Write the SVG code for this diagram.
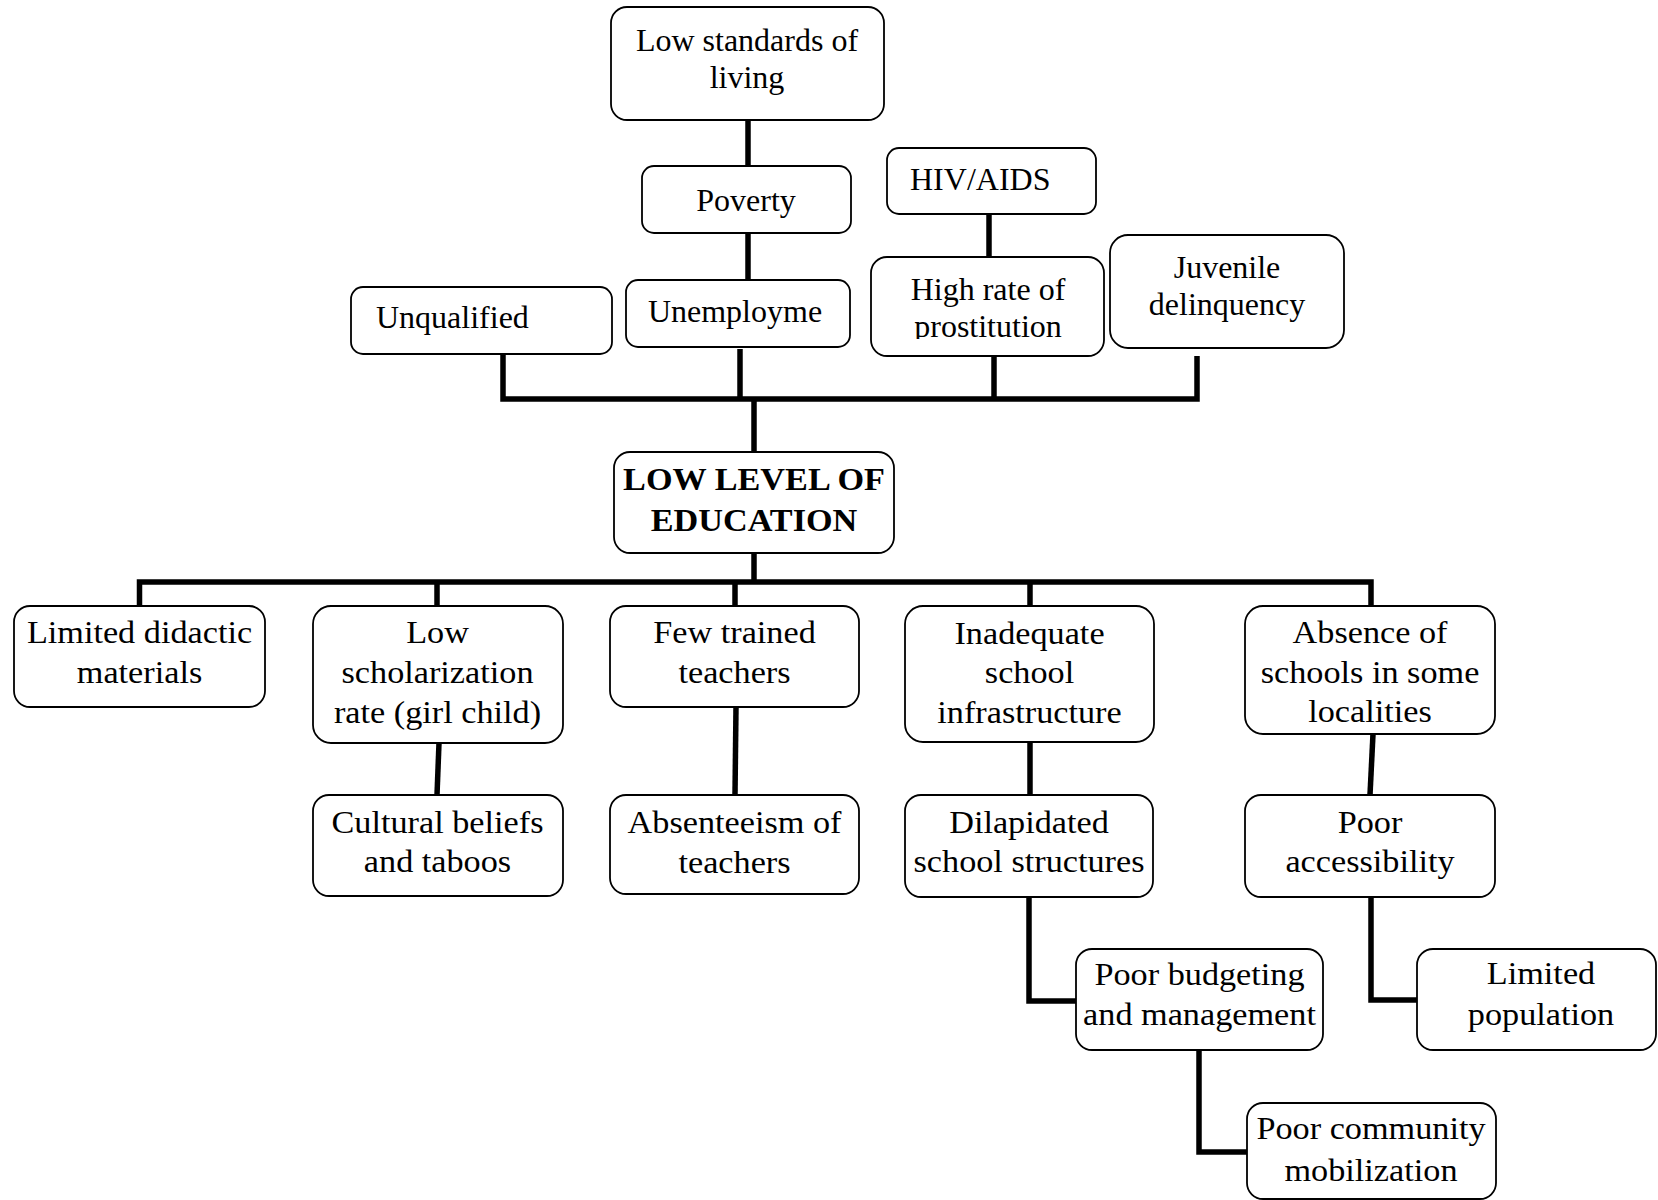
<svg xmlns="http://www.w3.org/2000/svg" width="1658" height="1200" viewBox="0 0 1658 1200">
  <style>
    .box { fill: #fff; stroke: #000; stroke-width: 1.8; }
    .lbl { font-family: "Liberation Serif", "Times New Roman", serif; font-size: 32px; fill: #000; text-anchor: middle; }
    .left { text-anchor: start; }
    .bold { font-weight: bold; }
    .wire { fill: none; stroke: #000; stroke-width: 5.5; stroke-linecap: butt; stroke-linejoin: miter; }
  </style>
  <defs>
    <clipPath id="clipProst"><rect x="860" y="250" width="260" height="89"/></clipPath>
  </defs>
  <rect width="1658" height="1200" fill="#fff"/>

  <!-- connectors -->
  <g id="connectors" class="wire">
    <path d="M748,119 V166"/>
    <path d="M748,233 V280"/>
    <path d="M989,214 V258"/>
    <path d="M503,354 V399 H1197 V356"/>
    <path d="M740,349 V399"/>
    <path d="M994,351 V399"/>
    <path d="M754,399 V452"/>
    <path d="M754,553 V582"/>
    <path d="M139.5,606 V582 H1371 V606"/>
    <path d="M437,582 V606"/>
    <path d="M735,582 V606"/>
    <path d="M1030,582 V606"/>
    <path d="M439,743 L437,795"/>
    <path d="M736,707 L735,795"/>
    <path d="M1030,742 V795"/>
    <path d="M1373,734 L1370,795"/>
    <path d="M1029,897 V1001 H1076"/>
    <path d="M1199,1050 V1152 H1247"/>
    <path d="M1371,897 V1000 H1417"/>
  </g>

  <!-- upper causes -->
  <g id="n-living">
    <rect class="box" x="611" y="7" width="273" height="113" rx="16"/>
    <text class="lbl" x="747" y="51">Low standards of</text>
    <text class="lbl" x="747" y="88">living</text>
  </g>
  <g id="n-poverty">
    <rect class="box" x="642" y="166" width="209" height="67" rx="12"/>
    <text class="lbl" x="746" y="211">Poverty</text>
  </g>
  <g id="n-unemployment">
    <rect class="box" x="626" y="280" width="224" height="67" rx="12"/>
    <text class="lbl" x="735" y="322">Unemployme</text>
  </g>
  <g id="n-unqualified">
    <rect class="box" x="351" y="287" width="261" height="67" rx="12"/>
    <text class="lbl left" x="376" y="328">Unqualified</text>
  </g>
  <g id="n-hiv">
    <rect class="box" x="887" y="148" width="209" height="66" rx="12"/>
    <text class="lbl left" x="910" y="190">HIV/AIDS</text>
  </g>
  <g id="n-prostitution">
    <rect class="box" x="871" y="257" width="233" height="99" rx="16"/>
    <text class="lbl" x="988" y="300">High rate of</text>
    <text class="lbl" x="988" y="337" clip-path="url(#clipProst)">prostitution</text>
  </g>
  <g id="n-juvenile">
    <rect class="box" x="1110" y="235" width="234" height="113" rx="18"/>
    <text class="lbl" x="1227" y="278">Juvenile</text>
    <text class="lbl" x="1227" y="315">delinquency</text>
  </g>

  <!-- central problem -->
  <g id="n-core">
    <rect class="box" x="614" y="452" width="280" height="101" rx="16"/>
    <g transform="translate(754 0) scale(1.07 1)">
      <text class="lbl bold" x="0" y="490">LOW LEVEL OF</text>
      <text class="lbl bold" x="0" y="531">EDUCATION</text>
    </g>
  </g>

  <!-- consequences -->
  <g id="n-didactic">
    <rect class="box" x="14" y="606" width="251" height="101" rx="16"/>
    <g transform="translate(139.5 0) scale(1.07 1)">
      <text class="lbl" x="0" y="643">Limited didactic</text>
      <text class="lbl" x="0" y="683">materials</text>
    </g>
  </g>
  <g id="n-scholarization">
    <rect class="box" x="313" y="606" width="250" height="137" rx="18"/>
    <g transform="translate(437.5 0) scale(1.07 1)">
      <text class="lbl" x="0" y="643">Low</text>
      <text class="lbl" x="0" y="683">scholarization</text>
      <text class="lbl" x="0" y="723">rate (girl child)</text>
    </g>
  </g>
  <g id="n-cultural">
    <rect class="box" x="313" y="795" width="250" height="101" rx="16"/>
    <g transform="translate(437.5 0) scale(1.07 1)">
      <text class="lbl" x="0" y="833">Cultural beliefs</text>
      <text class="lbl" x="0" y="872">and taboos</text>
    </g>
  </g>
  <g id="n-trained">
    <rect class="box" x="610" y="606" width="249" height="101" rx="16"/>
    <g transform="translate(734.5 0) scale(1.07 1)">
      <text class="lbl" x="0" y="643">Few trained</text>
      <text class="lbl" x="0" y="683">teachers</text>
    </g>
  </g>
  <g id="n-absenteeism">
    <rect class="box" x="610" y="795" width="249" height="99" rx="16"/>
    <g transform="translate(734.5 0) scale(1.07 1)">
      <text class="lbl" x="0" y="833">Absenteeism of</text>
      <text class="lbl" x="0" y="873">teachers</text>
    </g>
  </g>
  <g id="n-infrastructure">
    <rect class="box" x="905" y="606" width="249" height="136" rx="18"/>
    <g transform="translate(1029.5 0) scale(1.07 1)">
      <text class="lbl" x="0" y="644">Inadequate</text>
      <text class="lbl" x="0" y="683">school</text>
      <text class="lbl" x="0" y="723">infrastructure</text>
    </g>
  </g>
  <g id="n-dilapidated">
    <rect class="box" x="905" y="795" width="248" height="102" rx="16"/>
    <g transform="translate(1029 0) scale(1.07 1)">
      <text class="lbl" x="0" y="833">Dilapidated</text>
      <text class="lbl" x="0" y="872">school structures</text>
    </g>
  </g>
  <g id="n-budgeting">
    <rect class="box" x="1076" y="949" width="247" height="101" rx="16"/>
    <g transform="translate(1199.5 0) scale(1.07 1)">
      <text class="lbl" x="0" y="985">Poor budgeting</text>
      <text class="lbl" x="0" y="1025">and management</text>
    </g>
  </g>
  <g id="n-mobilization">
    <rect class="box" x="1247" y="1103" width="249" height="96" rx="16"/>
    <g transform="translate(1371 0) scale(1.07 1)">
      <text class="lbl" x="0" y="1139">Poor community</text>
      <text class="lbl" x="0" y="1181">mobilization</text>
    </g>
  </g>
  <g id="n-absence">
    <rect class="box" x="1245" y="606" width="250" height="128" rx="18"/>
    <g transform="translate(1370 0) scale(1.07 1)">
      <text class="lbl" x="0" y="643">Absence of</text>
      <text class="lbl" x="0" y="683">schools in some</text>
      <text class="lbl" x="0" y="722">localities</text>
    </g>
  </g>
  <g id="n-accessibility">
    <rect class="box" x="1245" y="795" width="250" height="102" rx="16"/>
    <g transform="translate(1370 0) scale(1.07 1)">
      <text class="lbl" x="0" y="833">Poor</text>
      <text class="lbl" x="0" y="872">accessibility</text>
    </g>
  </g>
  <g id="n-population">
    <rect class="box" x="1417" y="949" width="239" height="101" rx="16"/>
    <g transform="translate(1541 0) scale(1.07 1)">
      <text class="lbl" x="0" y="984">Limited</text>
      <text class="lbl" x="0" y="1025">population</text>
    </g>
  </g>
</svg>
